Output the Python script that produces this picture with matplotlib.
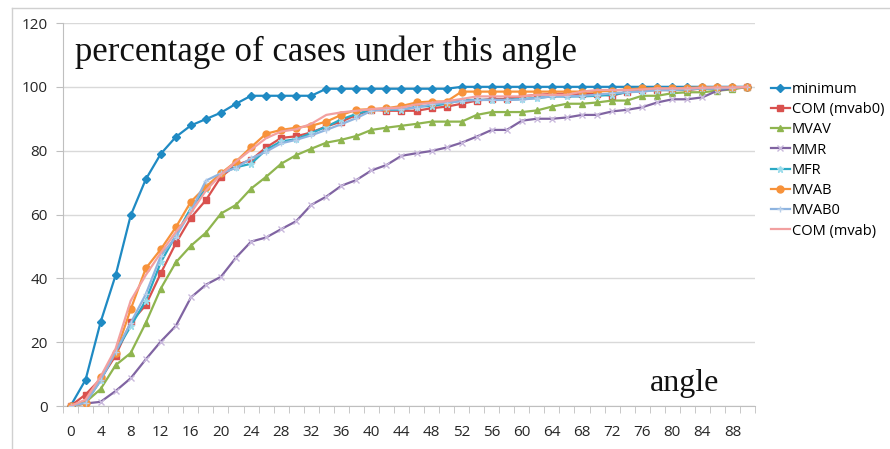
import matplotlib
matplotlib.use("Agg")
import matplotlib.pyplot as plt
from matplotlib.lines import Line2D

angles = list(range(0, 92, 2))

minimum = [0, 8.2, 26.3, 41, 59.7, 71, 79, 84.3, 87.9, 89.9,
           91.9, 94.7, 97.2, 97.2, 97.2, 97.2, 97.2, 99.4, 99.4, 99.4,
           99.4, 99.4, 99.4, 99.4, 99.4, 99.4, 100, 100, 100, 100,
           100, 100, 100, 100, 100, 100, 100, 100, 100, 100,
           100, 100, 100, 100, 100, 100]
com_mvab0 = [0, 3.6, 8.5, 15.8, 26.2, 31.6, 41.6, 51, 59, 64.5,
             71.8, 75.5, 77.1, 81, 84, 84.5, 85.7, 87.6, 89.1, 91.2,
             92.8, 92.5, 92.5, 92.5, 93.3, 93.8, 94.7, 95.7, 96.2, 96.2,
             97, 97.5, 97.8, 97.8, 97.8, 97.8, 97.2, 98.5, 99, 99,
             99, 99, 99.5, 99.5, 99.5, 100]
mvav = [0, 1.2, 5.3, 12.8, 16.6, 26, 36.8, 45, 50.2, 54.3,
        60.3, 63, 68.1, 71.8, 75.9, 78.6, 80.6, 82.5, 83.4, 84.6,
        86.5, 87.2, 87.8, 88.4, 89.1, 89.1, 89.1, 91.2, 92.1, 92.1,
        92.1, 92.6, 93.8, 94.7, 94.7, 95.1, 95.7, 95.7, 97.2, 97.2,
        98, 98.3, 98.3, 98.8, 99.2, 100]
mmr = [0, 0.8, 1.3, 4.7, 8.7, 14.6, 20.2, 25.1, 34, 38,
       40.5, 46.5, 51.5, 52.8, 55.4, 57.9, 63, 65.6, 69, 70.8,
       73.8, 75.5, 78.4, 79.2, 79.9, 81, 82.5, 84.4, 86.5, 86.5,
       89.4, 90, 90, 90.4, 91.2, 91.2, 92.3, 92.8, 93.6, 95.1,
       96.1, 96.1, 96.7, 98.8, 99.5, 100]
mfr = [0, 1, 8, 17, 25, 33, 45, 53.5, 62, 68,
       72.9, 74.8, 75.9, 80.3, 82.9, 83.6, 85.5, 87.5, 89.8, 91.5,
       92.8, 92.8, 92.8, 93.8, 94, 94.7, 95.9, 95.9, 95.9, 95.9,
       96.2, 96.5, 97, 97, 97, 97.2, 97.5, 98.3, 98.8, 99,
       99, 99.2, 99.5, 99.5, 99.7, 100]
mvab = [0, 0.8, 9, 16.5, 30.3, 43.1, 49.1, 56, 64, 68.7,
        72.9, 76.6, 81.1, 85.3, 86.5, 87.2, 87.8, 89.1, 91.2, 92.8,
        93, 93.3, 94, 95.1, 95.4, 95.4, 98.5, 98.5, 98.5, 98.5,
        98.5, 98.5, 98.5, 98.5, 98.5, 98.5, 98.8, 99.2, 99.5, 99.5,
        99.5, 99.7, 99.8, 99.8, 99.8, 99.8]
mvab0 = [0, 1, 8, 17, 26, 35, 47, 53, 61, 70.6,
         72.9, 74.6, 77.6, 79.7, 82.3, 83.4, 84.8, 86.5, 88.3, 90.2,
         92.5, 93, 93, 93.5, 94.5, 95, 95.5, 95.9, 95.9, 95.9,
         96, 96.5, 97, 97, 97.2, 97.5, 98, 98.3, 98.5, 99,
         99, 99.2, 99.5, 99.5, 99.7, 100]
com_mvab = [0, 2, 9.2, 18, 33, 41, 48, 54.5, 60.5, 67.5,
            72.5, 76.6, 80.3, 83.9, 86, 86.7, 88.4, 91.2, 92, 92.5,
            93, 93.3, 93.5, 94.5, 95, 95.5, 96.2, 97, 97, 97,
            97, 97.5, 97.5, 97.5, 98.5, 99, 99, 99, 99.2, 99.5,
            99.5, 99.5, 99.7, 99.8, 99.8, 100]

# label, values, line colour, marker, marker size, marker colour
series = [
    ("minimum", minimum, "#1F8AC3", "D", 4, "#1F8AC3"),
    ("COM (mvab0)", com_mvab0, "#D9514E", "s", 5, "#D9514E"),
    ("MVAV", mvav, "#8FB54F", "^", 5, "#8FB54F"),
    ("MMR", mmr, "#8064A2", "x", 4, "#C8B8DC"),
    ("MFR", mfr, "#2AA9C4", "*", 5, "#9BDCEB"),
    ("MVAB", mvab, "#F7923A", "o", 5, "#F7923A"),
    ("MVAB0", mvab0, "#8EB4E0", "+", 5, "#B8CFEA"),
    ("COM (mvab)", com_mvab, "#F2A0A0", None, 0, "#F2A0A0"),
]

fig = plt.figure(figsize=(8.9, 4.49), dpi=100)
ax = fig.add_axes([63 / 890, 43 / 449, 692 / 890, 383 / 449])

handles = []
for label, vals, color, marker, ms, mcolor in series:
    ax.plot(angles, vals, color=color, lw=1.6, marker=marker, ms=ms,
            mfc=mcolor, mec=mcolor, mew=1.0, zorder=3)
    handles.append(Line2D([], [], color=color, lw=1.6, marker=marker, ms=ms,
                          mfc=mcolor, mec=mcolor, mew=1.0))

ax.set_xlim(-1, 91)
ax.set_ylim(0, 120)
ax.set_yticks(range(0, 121, 20))
ax.set_xticks(range(0, 90, 4))
ax.set_xticks(range(-1, 92, 2), minor=True)
ax.tick_params(axis="x", which="major", length=0, pad=14)
ax.tick_params(axis="x", which="minor", length=5, color="#BFBFBF", direction="out")
ax.tick_params(axis="y", length=5, color="#BFBFBF", direction="out", pad=6)
for t in ax.get_xticklabels() + ax.get_yticklabels():
    t.set_fontfamily("Open Sans")
    t.set_fontsize(11)
    t.set_color("#262626")

ax.grid(axis="y", color="#D9D9D9", lw=1)
ax.set_axisbelow(True)
for side in ("top", "right"):
    ax.spines[side].set_visible(False)
for side in ("left", "bottom"):
    ax.spines[side].set_color("#BFBFBF")

fig.text(75 / 890, 1 - 52 / 449, "percentage of cases under this angle",
         family="Liberation Serif", fontsize=25, ha="left", va="center",
         color="#111111")
ax.text(81.6, 6.9, "angle", family="Liberation Serif", fontsize=23,
        ha="center", va="center", color="#111111")

fig.legend(handles, [s[0] for s in series], loc="upper left",
           bbox_to_anchor=(765 / 890, 1 - 76 / 449), frameon=False,
           prop={"family": "Open Sans", "size": 10.5}, handlelength=1.3,
           handletextpad=0.15, labelspacing=0.36, borderaxespad=0)

# chart area border
fig.add_artist(Line2D([12 / 890, 12 / 890], [0, 1 - 8 / 449], color="#D0D0D0", lw=1))
fig.add_artist(Line2D([12 / 890, 1], [1 - 8 / 449, 1 - 8 / 449], color="#D0D0D0", lw=1))

fig.savefig("out.png", dpi=100)
